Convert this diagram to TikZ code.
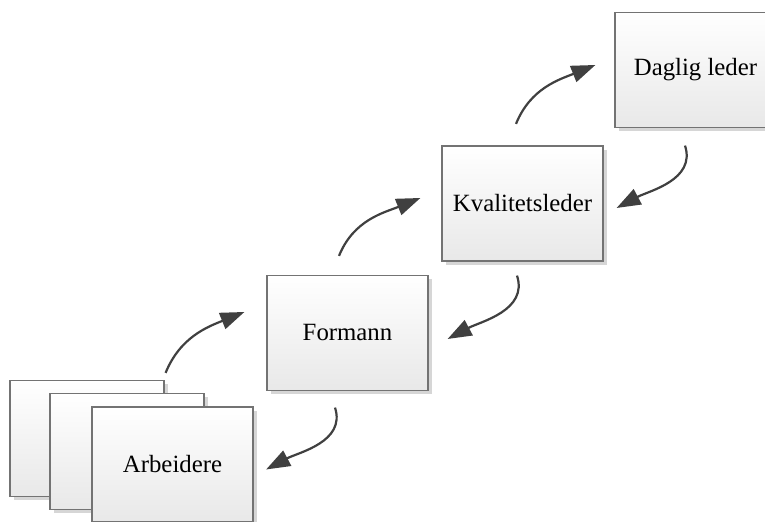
\documentclass[tikz,border=0pt]{standalone}
\usepackage{fontspec}
\setmainfont{Liberation Serif}
\usepackage{tikz}
\usetikzlibrary{arrows.meta,shadows,positioning}
\tikzset{
  rolebox/.style={ draw=black!55, line width=0.6pt, top color=white, bottom color=black!9,
    drop shadow={shadow xshift=2pt, shadow yshift=-2pt, fill=black!16, opacity=1},
    minimum width=80.5pt, minimum height=57.5pt, inner sep=0pt,
    font=\fontsize{12.4}{15}\selectfont }
}
\tikzset{
  stackbox/.style={ rolebox, minimum width=77pt, minimum height=58pt }
}
\tikzset{
  flow/.style={ draw=black!75, line width=1.1pt, -{Triangle[length=12pt,width=8.5pt]} }
}

\begin{document}
\begin{tikzpicture}[x=0.5pt, y=0.5pt]
      \useasboundingbox (0,0) rectangle (765,522);

      \node[stackbox] (W1) at (87, 83.5) {};
      \node[stackbox] (W2) at (127, 70.5) {};
      \node[rolebox] (work) at (172.5, 57.5) {Arbeidere};

      \node[rolebox] (fore) at (347.5, 189) {Formann};
      \node[rolebox] (qual) at (522.5, 318.5) {Kvalitetsleder};
      \node[rolebox] (ceo) at (695.5, 452) {Daglig leder};

      % upwards
      \draw[flow] ([xshift=0.5pt, yshift=3.5pt]W1.north east) to[out=68, in=202]
        ([xshift=-11pt, yshift=10.5pt]fore.west);
      \draw[flow] ([xshift=-4.25pt, yshift=9.5pt]fore.north) to[out=68, in=202]
        ([xshift=-10.5pt, yshift=2.75pt]qual.west);
      \draw[flow] ([xshift=-3.25pt, yshift=10.75pt]qual.north) to[out=68, in=202]
        ([xshift=-9.5pt, yshift=2.5pt]ceo.west);

      % downwards
      \draw[flow] ([xshift=-5.25pt, yshift=-8.75pt]ceo.south) to[out=-72, in=28]
        ([xshift=6.5pt, yshift=-2.25pt]qual.east);
      \draw[flow] ([xshift=-2.75pt, yshift=-7pt]qual.south) to[out=-72, in=28]
        ([xshift=9.5pt, yshift=-3pt]fore.east);
      \draw[flow] ([xshift=-6.25pt, yshift=-8.25pt]fore.south) to[out=-72, in=28]
        ([xshift=6.25pt, yshift=-2.5pt]work.east);
\end{tikzpicture}
\end{document}
